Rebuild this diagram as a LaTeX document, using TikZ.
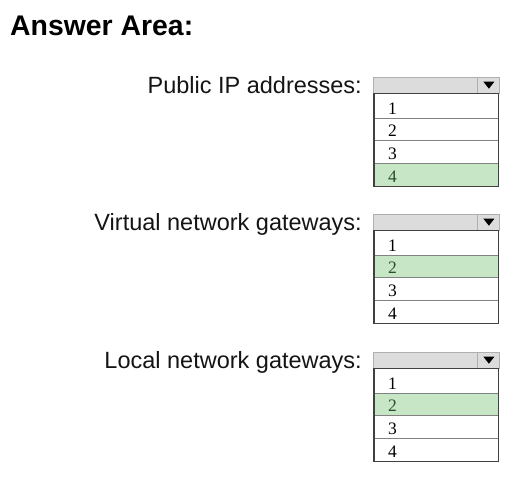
\documentclass[tikz,border=0pt]{standalone}
\usepackage{fontspec}
\setmainfont{Liberation Sans}
\newfontfamily\numfont{Liberation Serif}
\usetikzlibrary{positioning, calc}
\definecolor{hdrgray}{RGB}{220,220,220}
\definecolor{hdrline}{RGB}{175,175,175}
\definecolor{boxline}{RGB}{65,65,65}
\definecolor{rowline}{RGB}{130,130,130}
\definecolor{pickgreen}{RGB}{198,230,198}
\definecolor{pickdigit}{RGB}{40,80,40}
\tikzstyle{combo} = [rectangle, draw=hdrline, fill=hdrgray, minimum width=126pt, minimum height=16pt, inner sep=0pt]
\tikzstyle{listbox} = [rectangle, minimum width=124pt, minimum height=93pt, inner sep=0pt]
\tikzstyle{frame} = [draw=boxline, line width=1.2pt]
\tikzstyle{field} = [font=\fontsize{23.5}{28}\selectfont, text=black!92, inner sep=0pt]
\tikzstyle{digit} = [font=\numfont\fontsize{17.5}{19}\selectfont, inner sep=0pt]
\tikzstyle{line} = [thin, rowline]

\begin{document}
\begin{tikzpicture}[x=1pt, y=-1pt]
    \useasboundingbox (0,0) rectangle (528,483);

    \node (title) [anchor=base west, inner sep=0pt, font=\bfseries\fontsize{28.4}{32}\selectfont] at (10,35) {Answer Area:};

    % one drop-down per question
    \foreach \n/\y/\txt/\sel in {A/77/Public IP addresses:/4, B/214/Virtual network gateways:/2, C/352/Local network gateways:/2} {
        \node (hdr\n) [combo, anchor=north west] at (373,\y) {};
        \draw [hdrline] ([xshift=-22pt]hdr\n.north east) -- ([xshift=-22pt]hdr\n.south east);
        \fill ($(hdr\n.east)+(-16,-3.5)$) -- ++(11,0) -- ++(-5.5,7) -- cycle;
        \node (lbl\n) [field, anchor=base east] at ([xshift=-11pt]hdr\n.south west) {\txt};
        \node (lst\n) [listbox, anchor=north west] at ([xshift=1pt]hdr\n.south west) {};

        % rows 1..4, chosen one in green
        \foreach \k/\ya/\yb in {1/0/25, 2/25/47, 3/47/70, 4/70/93} {
            \ifnum\k=\sel
                \fill [pickgreen] ($(lst\n.north west)+(0,\ya)$) rectangle ($(lst\n.north east)+(0,\yb)$);
                \def\dcol{pickdigit}
            \else
                \def\dcol{black}
            \fi
            \ifnum\k>1 \draw [line] ($(lst\n.north west)+(0,\ya)$) -- ($(lst\n.north east)+(0,\ya)$); \fi
            \node (num\n\k) [digit, text=\dcol, anchor=base west] at ($(lst\n.north west)+(14,\yb-3.5)$) {\k};
        }
        \draw [frame] (lst\n.north west) rectangle (lst\n.south east);
    }

\end{tikzpicture}
\end{document}
